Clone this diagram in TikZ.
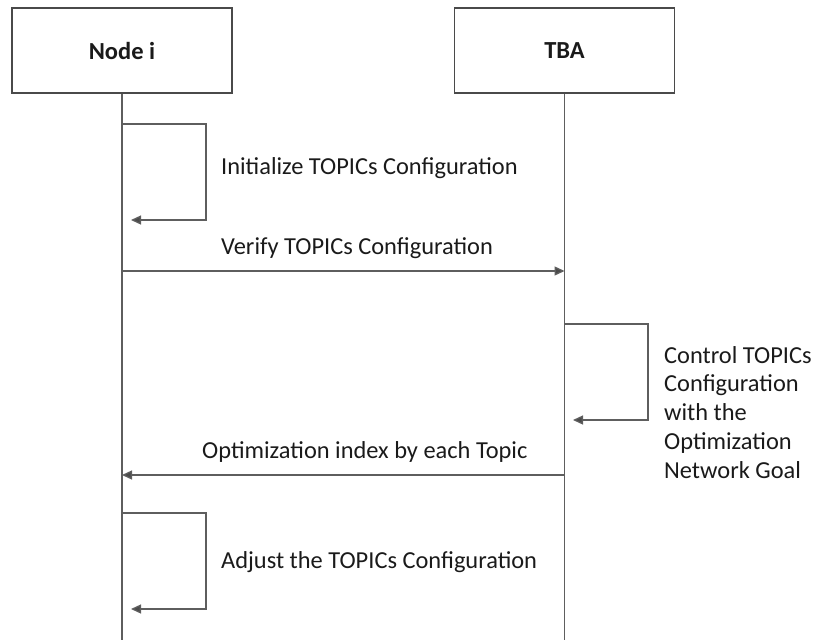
\documentclass[tikz,border=0pt]{standalone}
\usepackage{fontspec}
\setmainfont{Carlito}
\usetikzlibrary{arrows.meta}
\definecolor{boxgray}{HTML}{4A4A4A}
\definecolor{linegray}{HTML}{5E5E5E}
\definecolor{textblack}{HTML}{1A1A1A}
\begin{document}
\begin{tikzpicture}[x=1pt,y=-1pt,
  actor/.style={draw=boxgray, line width=1.8pt, minimum width=220pt,
    minimum height=85pt, inner sep=0pt, text=textblack,
    font=\fontsize{24.5}{29}\selectfont\bfseries},
  lifeline/.style={draw=linegray, line width=1.3pt},
  msg/.style={draw=linegray, line width=1.3pt,
    -{Triangle[length=10pt,width=9pt,fill=boxgray]}},
  msgtext/.style={inner sep=0pt, anchor=base west, text=textblack,
    font=\fontsize{24.4}{28.8}\selectfont},
  notetext/.style={inner sep=0pt, anchor=north west, align=left, text=textblack,
    font=\fontsize{24.4}{28.8}\selectfont}]
\useasboundingbox (0,0) rectangle (814,640);

% participants
\node[actor] (nodei) at (122,50.5) {Node i};
\node[actor] (tba) at (564.5,50.5) {TBA};

% lifelines
\coordinate (nodei-end) at (122,640);
\coordinate (tba-end) at (564.5,640);
\draw[lifeline] (nodei.south) -- (nodei-end);
\draw[lifeline] (tba.south) -- (tba-end);

% self message: initialize
\coordinate (init-a) at (122,124);
\coordinate (init-b) at (206,124);
\coordinate (init-c) at (206,220);
\coordinate (init-d) at (131,220);
\draw[msg] (init-a) -- (init-b) -- (init-c) -- (init-d);
\node[msgtext] (init-t) at (221,174) {Initialize TOPICs Configuration};

% message: verify
\coordinate (ver-a) at (122,271);
\coordinate (ver-b) at (564.5,271);
\draw[msg] (ver-a) -- (ver-b);
\node[msgtext] (ver-t) at (221,254) {Verify TOPICs Configuration};

% self message: control
\coordinate (ctl-a) at (564.5,324);
\coordinate (ctl-b) at (648,324);
\coordinate (ctl-c) at (648,420);
\coordinate (ctl-d) at (573,420);
\draw[msg] (ctl-a) -- (ctl-b) -- (ctl-c) -- (ctl-d);
\node[notetext] (ctl-t) at (664,346) {Control TOPICs\\Configuration\\with the\\Optimization\\Network Goal};

% message: optimization index
\coordinate (opt-a) at (564.5,475);
\coordinate (opt-b) at (122,475);
\draw[msg] (opt-a) -- (opt-b);
\node[msgtext] (opt-t) at (202,458) {Optimization index by each Topic};

% self message: adjust
\coordinate (adj-a) at (122,513);
\coordinate (adj-b) at (206,513);
\coordinate (adj-c) at (206,609);
\coordinate (adj-d) at (131,609);
\draw[msg] (adj-a) -- (adj-b) -- (adj-c) -- (adj-d);
\node[msgtext] (adj-t) at (221,568) {Adjust the TOPICs Configuration};
\end{tikzpicture}
\end{document}
